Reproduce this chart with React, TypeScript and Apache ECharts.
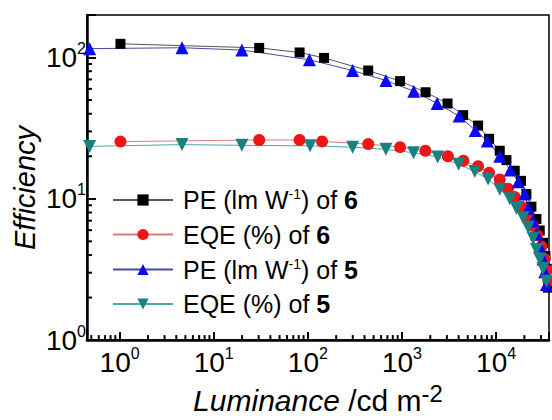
import React, { useEffect, useRef } from 'react';
import * as echarts from 'echarts';

const X_MIN = 0.45;
const X_MAX = 36500;
const Y_MIN = 1;
const Y_MAX = 200;

const seriesNames = ['PE (lm W-1) of 6', 'EQE (%) of 6', 'PE (lm W-1) of 5', 'EQE (%) of 5'];
const yTitle = 'Efficiency';

const pe6Lum = [1.02, 30.4, 81.7, 148.6, 438, 955, 1783, 3050, 4467, 6440, 8430, 10940, 12890, 15780, 18370, 21000, 23750, 26850, 29100, 31550, 33440, 34500, 35600];
const pe6Val = [125, 117, 108.6, 99.4, 80.9, 68.1, 56.8, 47.3, 39.1, 33.0, 26.6, 21.9, 18.8, 15.8, 13.4, 10.8, 8.8, 7.2, 5.97, 4.88, 3.94, 3.2, 2.35];

const eqe6Lum = [1.02, 30.4, 81.7, 141.6, 438, 955, 1774, 3073, 4500, 6440, 8430, 10940, 13400, 15780, 18600, 21870, 24720, 27230, 30340, 32880, 34750, 35970];
const eqe6Val = [25.4, 26.1, 26.1, 25.5, 24.4, 23.2, 21.9, 20.0, 18.6, 17.0, 15.3, 13.7, 11.8, 10.3, 8.8, 7.54, 6.45, 5.52, 4.6, 3.75, 3.12, 2.61];

const pe5Lum = [0.48, 4.6, 19.9, 104, 299, 676, 1337, 2365, 4050, 6010, 8070, 10950, 14150, 17200, 20170, 21870, 24720, 26850, 29100, 31550, 32880, 34270];
const pe5Val = [115.6, 117.3, 113, 96.4, 80.9, 68.8, 57.7, 47.3, 38.5, 30.5, 25.7, 20.0, 16.0, 13.2, 10.8, 8.57, 6.97, 5.67, 4.61, 3.75, 3.05, 2.47];

const eqe5Lum = [0.48, 4.6, 19.9, 105.5, 299, 676, 1327, 2395, 4000, 5940, 8220, 10950, 13970, 16450, 19350, 21870, 24720, 26850, 29100, 31550, 34270];
const eqe5Val = [23.5, 24.2, 23.9, 23.7, 23.2, 22.4, 21.2, 19.8, 17.6, 15.6, 13.8, 11.7, 10.0, 8.58, 7.34, 6.29, 5.25, 4.38, 3.75, 3.21, 2.61];

const xMinorTicks = [0.5, 0.6, 0.7, 0.8, 0.9, 2, 3, 4, 5, 6, 7, 8, 9, 20, 30, 40, 50, 60, 70, 80, 90, 200, 300, 400, 500, 600, 700, 800, 900, 2000, 3000, 4000, 5000, 6000, 7000, 8000, 9000, 20000, 30000];
const yMinorTicks = [2, 3, 4, 5, 6, 7, 8, 9, 20, 30, 40, 50, 60, 70, 80, 90];

const legendRich: Record<string, string> = {
  'PE (lm W-1) of 6': '{t|PE (lm W}{s|-1}{t|) of }{b|6}',
  'EQE (%) of 6': '{t|EQE (%) of }{b|6}',
  'PE (lm W-1) of 5': '{t|PE (lm W}{s|-1}{t|) of }{b|5}',
  'EQE (%) of 5': '{t|EQE (%) of }{b|5}',
};

const FONT = 'Arial, "Liberation Sans", Helvetica, sans-serif';

function pairs(xs: number[], ys: number[]) {
  return xs.map((x, i) => [x, ys[i]]);
}

function powLabel(v: number) {
  const l = Math.log10(v);
  const n = Math.round(l);
  if (Math.abs(l - n) > 1e-6) return '';
  return '{b|10}{s|' + n + '}';
}

export default function App() {
  const ref = useRef<HTMLDivElement>(null);
  useEffect(() => {
    if (!ref.current) return;
    const chart = echarts.init(ref.current, undefined, { renderer: 'svg' });
    const tickRich = {
      b: { fontSize: 28, fontFamily: FONT, color: '#000', lineHeight: 34 },
      s: { fontSize: 16, fontFamily: FONT, color: '#000', lineHeight: 16, verticalAlign: 'top' },
    };
    const minorTickSeries = (axis: 'x' | 'y') => ({
      type: 'custom',
      silent: true,
      clip: false,
      z: 5,
      data: axis === 'x' ? xMinorTicks.map((v) => [v, Y_MIN]) : yMinorTicks.map((v) => [X_MIN, v]),
      renderItem: (params: any, api: any) => {
        const p = api.coord([api.value(0), api.value(1)]);
        const shape = axis === 'x'
          ? { x1: p[0], y1: p[1], x2: p[0], y2: p[1] - 5 }
          : { x1: p[0], y1: p[1], x2: p[0] + 5, y2: p[1] };
        return { type: 'line', shape, style: { stroke: '#000', lineWidth: 2 } };
      },
    });
    const lineSeries = (name: string, data: number[][], symbol: string, size: number, color: string, lineColor: string, rotate = 0) => ({
      name,
      type: 'line',
      data,
      symbol,
      symbolSize: size,
      symbolRotate: rotate,
      showAllSymbol: true,
      itemStyle: { color, borderWidth: 0 },
      lineStyle: { color: lineColor, width: 1 },
      emphasis: { disabled: true },
    });
    chart.setOption({
      animation: false,
      backgroundColor: '#fff',
      grid: { left: 87, right: 3, top: 15, bottom: 65, show: true, borderColor: '#000', borderWidth: 1.5, backgroundColor: 'transparent' },
      graphic: [
        {
          type: 'text',
          x: 25,
          y: 188,
          rotation: Math.PI / 2,
          silent: true,
          style: {
            text: yTitle,
            fontSize: 29,
            fontStyle: 'italic',
            fontFamily: FONT,
            fill: '#000',
            align: 'center',
            verticalAlign: 'middle',
          },
        },
      ],
      legend: {
        orient: 'vertical',
        left: 112,
        top: 187,
        padding: 0,
        itemWidth: 60,
        itemHeight: 14,
        itemGap: 9.5,
        selectedMode: false,
        data: seriesNames,
        formatter: (name: string) => legendRich[name] || name,
        textStyle: {
          padding: [0, 0, 0, 5],
          rich: {
            t: { fontSize: 25, fontFamily: FONT, color: '#000', lineHeight: 26 },
            s: { fontSize: 14, fontFamily: FONT, color: '#000', lineHeight: 14, verticalAlign: 'top' },
            b: { fontSize: 25, fontFamily: FONT, color: '#000', lineHeight: 26, fontWeight: 'bold' },
          },
        },
      },
      xAxis: {
        type: 'log',
        min: X_MIN,
        max: X_MAX,
        name: '{i|Luminance }{n|/cd m}{s|-2}',
        nameLocation: 'middle',
        nameGap: 27,
        nameTextStyle: {
          rich: {
            i: { fontSize: 30, fontStyle: 'italic', fontFamily: FONT, color: '#000', lineHeight: 38 },
            n: { fontSize: 30, fontFamily: FONT, color: '#000', lineHeight: 38 },
            s: { fontSize: 24, fontFamily: FONT, color: '#000', lineHeight: 22, verticalAlign: 'top' },
          },
        },
        axisLine: { show: true, lineStyle: { color: '#000', width: 2.5 } },
        axisTick: { show: true, inside: true, length: 8, lineStyle: { color: '#000', width: 2 } },
        axisLabel: { show: true, interval: 0, margin: 5, formatter: powLabel, rich: tickRich },
        splitLine: { show: false },
        minorTick: { show: false },
      },
      yAxis: {
        type: 'log',
        min: Y_MIN,
        max: Y_MAX,
        axisLine: { show: true, lineStyle: { color: '#000', width: 2.5 } },
        axisTick: { show: true, inside: true, length: 9, lineStyle: { color: '#000', width: 2 } },
        axisLabel: { show: true, interval: 0, margin: 1, formatter: powLabel, rich: tickRich },
        splitLine: { show: false },
        minorTick: { show: false },
      },
      series: [
        minorTickSeries('x'),
        minorTickSeries('y'),
        lineSeries(seriesNames[0], pairs(pe6Lum, pe6Val), 'rect', 10, '#000000', '#555555'),
        lineSeries(seriesNames[1], pairs(eqe6Lum, eqe6Val), 'circle', 12, '#f01414', '#e07a7a'),
        lineSeries(seriesNames[2], pairs(pe5Lum, pe5Val), 'triangle', 13, '#0a0aee', '#4a4aa8'),
        lineSeries(seriesNames[3], pairs(eqe5Lum, eqe5Val), 'triangle', 13, '#1a8080', '#4aa8a8', 180),
      ],
    });
    return () => chart.dispose();
  }, []);
  return <div ref={ref} style={{ position: 'absolute', left: 0, top: 0, width: 552, height: 420 }} />;
}
